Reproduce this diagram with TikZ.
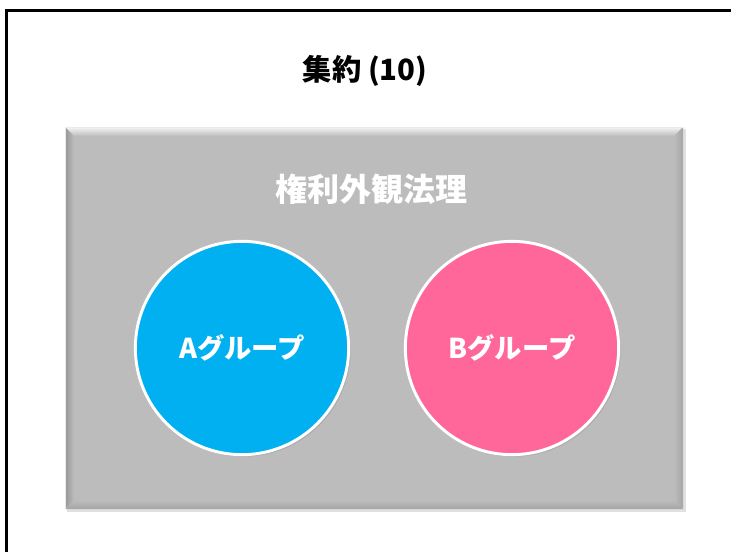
\documentclass[tikz,border=0pt]{standalone}
\usepackage{fontspec}
\newfontfamily\jp{Noto Sans CJK JP}
\usetikzlibrary{shadows}
\definecolor{panelgray}{HTML}{BCBCBC}
\definecolor{groupblue}{HTML}{00B0F0}
\definecolor{grouppink}{HTML}{FF6699}
\tikzset{
  group/.style={circle, draw=white, line width=2.2pt, minimum size=160pt, inner sep=0pt,
    text=white, font=\jp\bfseries\fontsize{20.5}{20.5}\selectfont,
    drop shadow={opacity=0.25, shadow xshift=1.5pt, shadow yshift=-1.5pt}},
  heading/.style={font=\jp\bfseries\fontsize{22}{22}\selectfont}
}
\begin{document}
\begin{tikzpicture}[x=0.75pt,y=-0.75pt]
\useasboundingbox (0,0) rectangle (731,551);
\clip (0,0) rectangle (731,551);
% frame, cut at the right and bottom
\draw[line width=2.25pt] (6.5,570) -- (6.5,10.5) -- (760,10.5);
\node[heading] (title) at (365,71) {集約 (10)};
% bevelled panel
\fill[black, opacity=0.12] (67,129) rectangle (686,512);
\fill[panelgray] (65,127) rectangle (683,509);
\shade[top color=white!85!panelgray, bottom color=panelgray] (65,127) -- (683,127) -- (674,136) -- (74,136) -- cycle;
\shade[left color=panelgray!80!black, right color=panelgray] (65,127) -- (74,136) -- (74,500) -- (65,509) -- cycle;
\shade[right color=panelgray!88!black, left color=panelgray] (683,127) -- (674,136) -- (674,500) -- (683,509) -- cycle;
\shade[bottom color=panelgray!88!black, top color=panelgray] (65,509) -- (74,500) -- (674,500) -- (683,509) -- cycle;
\draw[white!70!panelgray, line width=0.75pt] (65.5,509) -- (65.5,127.5) -- (683,127.5);
\node[heading, text=white, font=\jp\bfseries\fontsize{24}{24}\selectfont] (rule) at (371,189) {権利外観法理};
\node[group, fill=groupblue] (groupA) at (242,348) {Aグループ};
\node[group, fill=grouppink] (groupB) at (512,348) {Bグループ};
\end{tikzpicture}
\end{document}
